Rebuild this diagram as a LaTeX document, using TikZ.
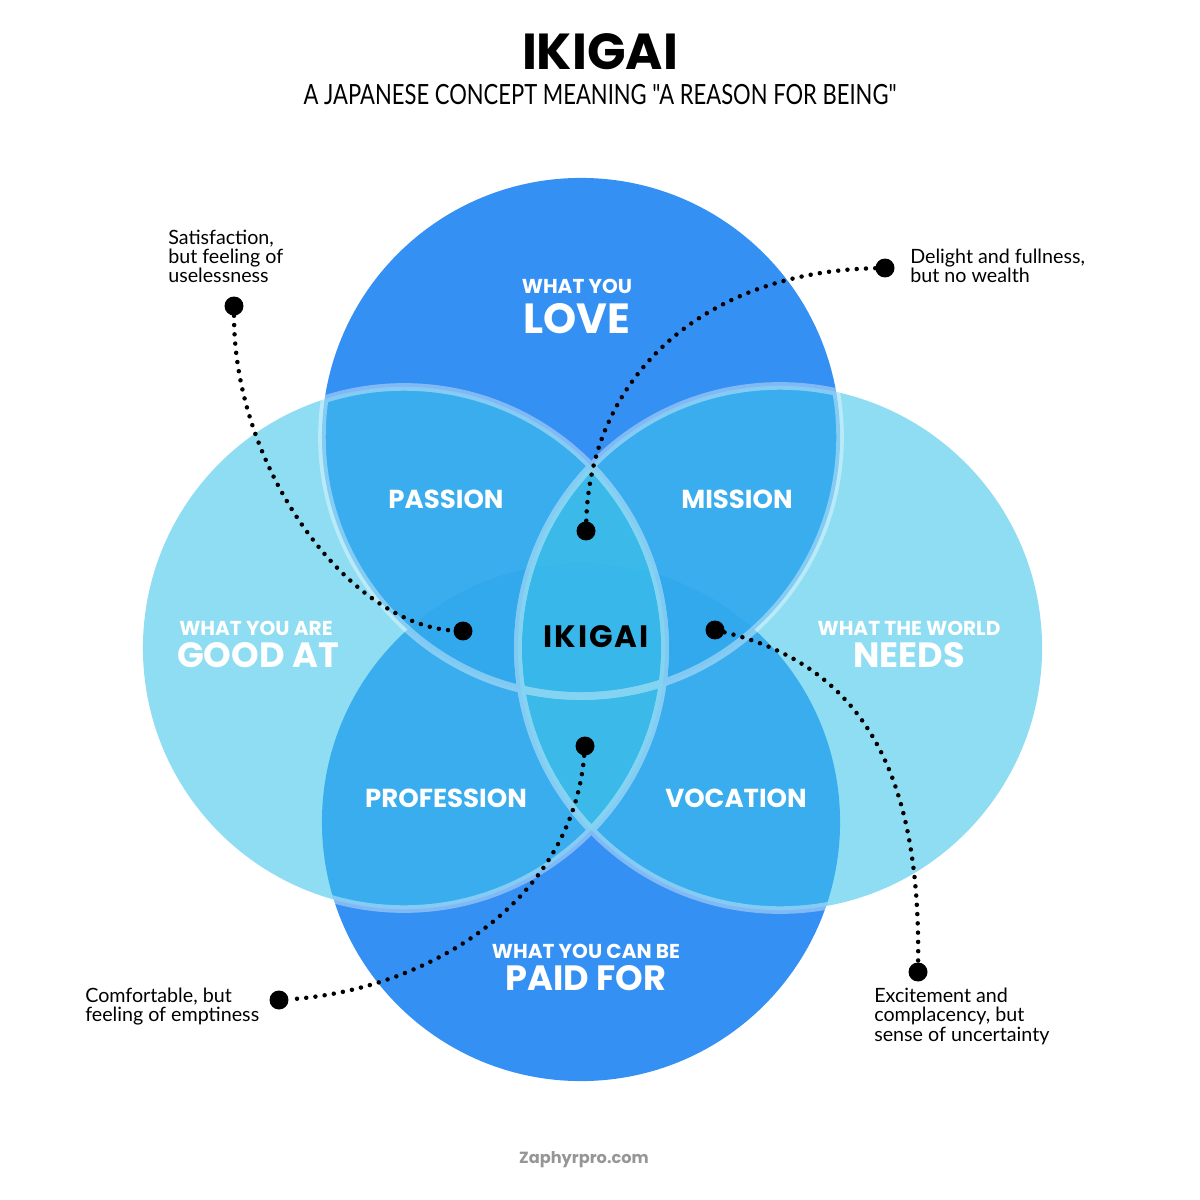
\documentclass[tikz,border=0pt]{standalone}
\usepackage{fontspec}
\setmainfont{Lato}
\newfontfamily\headfont{Poppins}
\newfontfamily\subfont{Lato}[FakeStretch=0.79]
\definecolor{loveblue}{RGB}{31,132,242}
\definecolor{needcyan}{RGB}{62,196,233}
\definecolor{footgray}{RGB}{150,150,150}
\newcommand\topcirc{(581,437) circle[radius=6.475cm]}
\newcommand\botcirc{(581,822) circle[radius=6.475cm]}
\newcommand\leftcirc{(404,648) circle[radius=6.525cm]}
\newcommand\rightcirc{(780,648) circle[radius=6.55cm]}

\begin{document}
\begin{tikzpicture}[x=0.025cm, y=-0.025cm]
  \tikzstyle{bluecirc}=[fill=loveblue, fill opacity=0.9]
  \tikzstyle{cyancirc}=[fill=needcyan, fill opacity=0.58]
  \tikzstyle{ring}=[draw=white, line width=5.4pt]
  \tikzstyle{bigword}=[text=white, font=\headfont\bfseries\fontsize{25}{25}\selectfont]
  \tikzstyle{smallword}=[text=white, font=\headfont\bfseries\fontsize{14.3}{14.3}\selectfont]
  \tikzstyle{region}=[text=white, font=\headfont\bfseries\fontsize{18.5}{18.5}\selectfont]
  \tikzstyle{caption}=[align=left, anchor=north west, inner sep=0pt, font=\fontsize{14}{13.6}\selectfont]
  \tikzstyle{dot}=[circle, fill=black, minimum size=13.5pt, inner sep=0pt]
  \tikzstyle{dotline}=[line width=3.2pt, line cap=round, dash pattern=on 0pt off 6.6pt]

  \useasboundingbox (0,0) rectangle (1200,1200);

  % the four circles
  \path[bluecirc] \botcirc;
  \path[bluecirc] \topcirc;
  \path[cyancirc] \leftcirc;
  \path[cyancirc] \rightcirc;

  % white rings, only where they cross another circle
  \begin{scope}[transparency group, opacity=0.38]
    \begin{scope}
      \clip \topcirc;
      \draw[ring] \leftcirc;
      \draw[ring] \rightcirc;
    \end{scope}
    \begin{scope}
      \clip \botcirc;
      \draw[ring] \leftcirc;
      \draw[ring] \rightcirc;
    \end{scope}
    \begin{scope}
      \clip \leftcirc;
      \draw[ring] \topcirc;
      \draw[ring] \rightcirc;
    \end{scope}
    \begin{scope}
      \clip \rightcirc;
      \draw[ring] \topcirc;
      \draw[ring] \leftcirc;
    \end{scope}
  \end{scope}

  % title
  \node[inner sep=0pt, font=\headfont\bfseries\fontsize{36}{36}\selectfont] (title) at (600,52) {IKIGAI};
  \node[inner sep=0pt, font=\subfont\fontsize{19.8}{19.8}\selectfont] (subtitle) at (600,95)
    {A JAPANESE CONCEPT MEANING "A REASON FOR BEING"};

  % outer circles
  \node[smallword] (love-a) at (577,286) {WHAT YOU};
  \node[bigword, font=\headfont\bfseries\fontsize{30}{30}\selectfont] (love-b) at (577,319) {LOVE};
  \node[smallword] (good-a) at (256,628) {WHAT YOU ARE};
  \node[bigword] (good-b) at (258,655) {GOOD AT};
  \node[smallword] (needs-a) at (909,628) {WHAT THE WORLD};
  \node[bigword] (needs-b) at (909,655) {NEEDS};
  \node[smallword] (paid-a) at (586,951) {WHAT YOU CAN BE};
  \node[bigword] (paid-b) at (586,978) {PAID FOR};

  % overlaps
  \node[region] (passion) at (446,499) {PASSION};
  \node[region] (mission) at (737,499) {MISSION};
  \node[region] (profession) at (446,798) {PROFESSION};
  \node[region] (vocation) at (736,798) {VOCATION};
  \node[region, text=black, font=\headfont\bfseries\fontsize{22}{22}\selectfont\addfontfeature{LetterSpace=6}] (ikigai) at (596,637) {IKIGAI};

  % captions
  \node[caption] (cap-sat) at (168,230) {Satisfaction,\\but feeling of\\uselessness};
  \node[caption] (cap-del) at (910,249) {Delight and fullness,\\but no wealth};
  \node[caption] (cap-com) at (85,988) {Comfortable, but\\feeling of emptiness};
  \node[caption] (cap-exc) at (874,988) {Excitement and\\complacency, but\\sense of uncertainty};

  % dots
  \node[dot] (sat-out) at (234,306) {};
  \node[dot] (sat-in) at (463,631) {};
  \node[dot] (del-out) at (885,268) {};
  \node[dot] (del-in) at (586,531) {};
  \node[dot] (exc-in) at (715,630) {};
  \node[dot] (exc-out) at (918,972) {};
  \node[dot] (com-in) at (585,746) {};
  \node[dot] (com-out) at (279,1000) {};

  \draw[dotline] (sat-out) .. controls (234,470) and (350,625) .. (sat-in);
  \draw[dotline] (del-out) .. controls (700,272) and (590,380) .. (del-in);
  \draw[dotline] (exc-in) .. controls (880,670) and (920,800) .. (exc-out);
  \draw[dotline] (com-in) .. controls (572,900) and (430,990) .. (com-out);

  \node[text=footgray, font=\headfont\bfseries\fontsize{11.5}{11.5}\selectfont] (footer) at (584,1160) {Zaphyrpro.com};
\end{tikzpicture}
\end{document}
